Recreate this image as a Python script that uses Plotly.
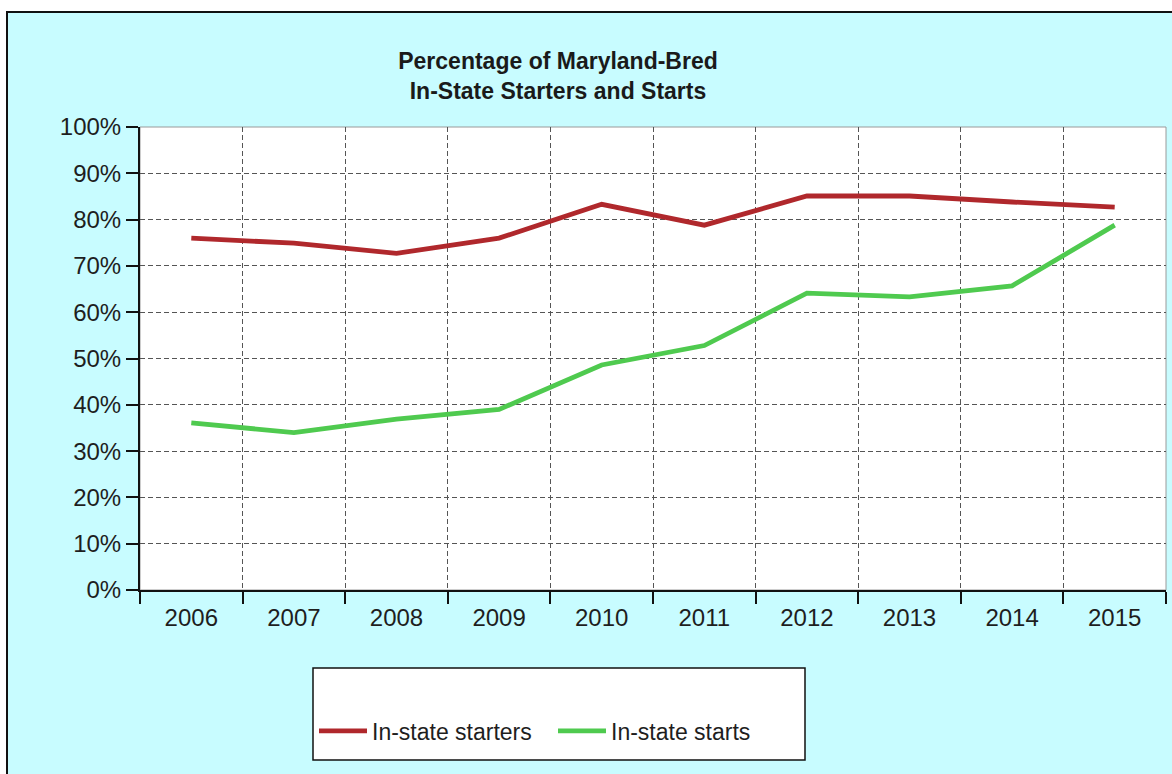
import plotly.graph_objects as go

years = ["2006", "2007", "2008", "2009", "2010", "2011", "2012", "2013", "2014", "2015"]
starters = [76.0, 74.9, 72.7, 76.0, 83.3, 78.8, 85.1, 85.1, 83.8, 82.7]
starts = [36.1, 34.0, 36.9, 39.0, 48.6, 52.8, 64.1, 63.3, 65.7, 78.8]
series_names = ["In-state starters", "In-state starts"]
title_text = "<b>Percentage of Maryland-Bred<br>In-State Starters and Starts</b>"

W, H = 1172, 774
L, R, T, B = 140, 6, 127, 184
pw, ph = W - L - R, H - T - B

def px_to_paper_x(x):
    return (x - L) / pw

def px_to_paper_y(y):
    return (H - B - y) / ph

fig = go.Figure()
fig.add_trace(go.Scatter(x=years, y=starters, mode="lines", name=series_names[0],
                         line=dict(color="#b0282c", width=4.8)))
fig.add_trace(go.Scatter(x=years, y=starts, mode="lines", name=series_names[1],
                         line=dict(color="#4fca4f", width=4.8)))

shapes = [
    # outer chart frame
    dict(type="rect", xref="paper", yref="paper", layer="below",
         x0=px_to_paper_x(7), x1=px_to_paper_x(1200),
         y0=px_to_paper_y(800), y1=px_to_paper_y(12),
         fillcolor="#c8fcff", line=dict(color="#111111", width=2)),
    # plot area
    dict(type="rect", xref="paper", yref="paper", layer="below",
         x0=0, x1=1, y0=0, y1=1,
         fillcolor="#ffffff", line=dict(color="#9a9a9a", width=1)),
    # legend box
    dict(type="rect", xref="paper", yref="paper", layer="below",
         x0=px_to_paper_x(313), x1=px_to_paper_x(805),
         y0=px_to_paper_y(760), y1=px_to_paper_y(668),
         fillcolor="#ffffff", line=dict(color="#111111", width=1.5)),
]

fig.update_layout(
    width=W, height=H,
    margin=dict(l=L, r=R, t=T, b=B),
    paper_bgcolor="#ffffff",
    plot_bgcolor="rgba(0,0,0,0)",
    font=dict(family="Liberation Sans, Arial, sans-serif", color="#1e1e1e"),
    title=dict(text=title_text, xref="container", yref="container",
               x=558 / W, xanchor="center", y=1 - 69 / H, yanchor="middle",
               font=dict(size=23, color="#1a1a1a")),
    shapes=shapes,
    showlegend=True,
    legend=dict(orientation="h", xref="container", yref="container",
                x=314 / W, xanchor="left", y=1 - 731 / H, yanchor="middle",
                bgcolor="rgba(0,0,0,0)", borderwidth=0,
                font=dict(size=23, color="#1e1e1e"),
                itemwidth=48, entrywidth=176, entrywidthmode="pixels",
                traceorder="normal"),
    xaxis=dict(type="category", range=[-0.5, 9.5], tickson="boundaries",
               showgrid=True, gridcolor="#555555", griddash="5px,3px", gridwidth=1,
               ticks="outside", ticklen=12, tickwidth=2, tickcolor="#111111",
               showline=True, linecolor="#111111", linewidth=2,
               ticklabelstandoff=5,
               tickfont=dict(size=24, color="#1e1e1e"), zeroline=False,
               fixedrange=True),
    yaxis=dict(range=[0, 100], dtick=10, ticksuffix="%",
               showgrid=True, gridcolor="#555555", griddash="5px,3px", gridwidth=1,
               ticks="outside", ticklen=12, tickwidth=2, tickcolor="#111111",
               showline=True, linecolor="#111111", linewidth=2,
               tickfont=dict(size=24, color="#1e1e1e"), zeroline=False,
               fixedrange=True),
)

fig.write_html("out.html", config={"displayModeBar": False},
               post_script="document.body.style.margin='0';")
